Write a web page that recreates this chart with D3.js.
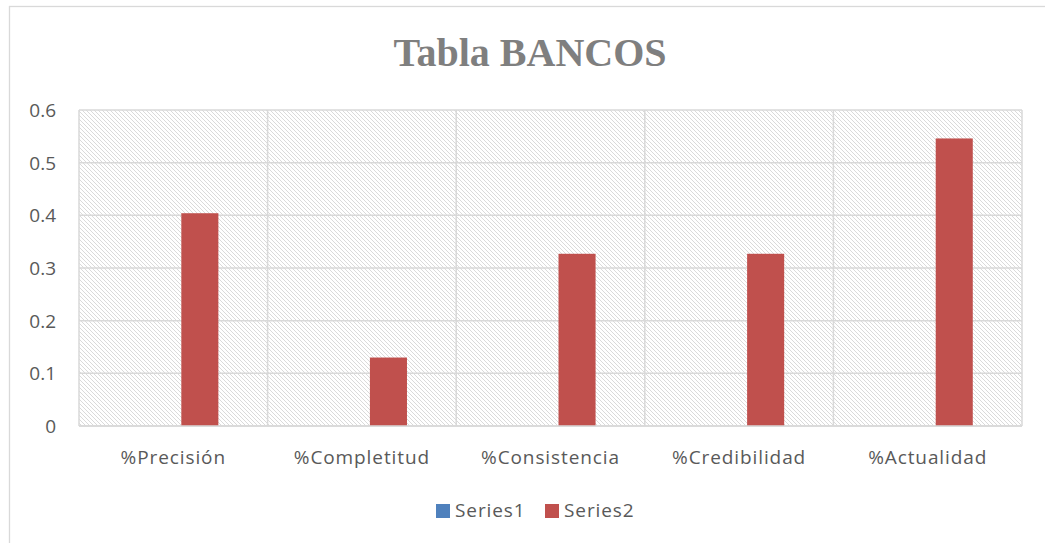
<!DOCTYPE html>
<html>
<head>
<meta charset="utf-8">
<script src="https://cdn.jsdelivr.net/npm/d3@7"></script>
<style>
  html, body { margin: 0; padding: 0; background: #fff; }
  svg { display: block; }
</style>
</head>
<body>
<svg id="chart" width="1045" height="543"></svg>
<script>
// ---- data ----
const categories = ["%Precisión", "%Completitud", "%Consistencia", "%Credibilidad", "%Actualidad"];
const seriesNames = ["Series1", "Series2"];
const series1 = [0, 0, 0, 0, 0];
const series2 = [0.404, 0.13, 0.327, 0.327, 0.546];
const yTicks = [0, 0.1, 0.2, 0.3, 0.4, 0.5, 0.6];
const titleText = "Tabla BANCOS";

// ---- layout ----
const W = 1045, H = 543;
const plot = { left: 79, right: 1022, top: 110, bottom: 426 };
const colors = { Series1: "#4f81bd", Series2: "#c0504d" };
const gridColor = "#d9d9d9";
const textColor = "#595959";
const font = "'Open Sans', sans-serif";

const svg = d3.select("#chart");

// hatch pattern
const defs = svg.append("defs");
const pat = defs.append("pattern")
  .attr("id", "hatch")
  .attr("patternUnits", "userSpaceOnUse")
  .attr("width", 4).attr("height", 4);
pat.append("rect").attr("width", 4).attr("height", 4).attr("fill", "#fff");
pat.append("path")
  .attr("d", "M-1,-1 L5,5 M-1,3 L1,5 M3,-1 L5,1")
  .attr("stroke", "#dadada")
  .attr("stroke-width", 1);

// outer chart border
svg.append("rect")
  .attr("x", 9.5).attr("y", 6.5)
  .attr("width", 1060).attr("height", 560)
  .attr("fill", "#fff")
  .attr("stroke", gridColor).attr("stroke-width", 1.3);

// title
svg.append("text")
  .attr("x", 530).attr("y", 66)
  .attr("text-anchor", "middle")
  .attr("font-family", "'Liberation Serif', 'DejaVu Serif', serif")
  .attr("font-weight", "bold")
  .attr("font-size", 40)
  .attr("fill", "#7f7f7f")
  .text(titleText);

// scales
const x0 = d3.scaleBand().domain(categories).range([plot.left, plot.right]).padding(0);
const bw = x0.bandwidth();
const clusterHalf = bw * 0.239;
const x1 = d3.scaleBand().domain(seriesNames)
  .range([bw / 2 - clusterHalf, bw / 2 + clusterHalf])
  .paddingInner(0.302).paddingOuter(0);
const y = d3.scaleLinear().domain([0, 0.6]).range([plot.bottom, plot.top]);

// plot background hatch
svg.append("rect")
  .attr("x", plot.left).attr("y", plot.top)
  .attr("width", plot.right - plot.left).attr("height", plot.bottom - plot.top)
  .attr("fill", "url(#hatch)");

// horizontal gridlines
svg.append("g")
  .selectAll("line").data(yTicks).join("line")
  .attr("x1", plot.left).attr("x2", plot.right)
  .attr("y1", d => y(d)).attr("y2", d => y(d))
  .attr("stroke", gridColor).attr("stroke-width", 1.5);

// vertical gridlines at category boundaries
const bounds = categories.map(c => x0(c)).concat([plot.right]);
svg.append("g")
  .selectAll("line").data(bounds).join("line")
  .attr("x1", d => d).attr("x2", d => d)
  .attr("y1", plot.top).attr("y2", plot.bottom)
  .attr("stroke", gridColor).attr("stroke-width", 1.5);

// bars
const rows = categories.map((c, i) => ({ cat: c, vals: [
  { s: "Series1", v: series1[i] },
  { s: "Series2", v: series2[i] }
]}));
const g = svg.append("g");
g.selectAll("g").data(rows).join("g")
  .attr("transform", d => `translate(${x0(d.cat)},0)`)
  .selectAll("rect").data(d => d.vals).join("rect")
  .attr("x", d => x1(d.s))
  .attr("width", x1.bandwidth())
  .attr("y", d => y(d.v))
  .attr("height", d => y(0) - y(d.v))
  .attr("fill", d => colors[d.s]);

// x axis line
svg.append("line")
  .attr("x1", plot.left).attr("x2", plot.right)
  .attr("y1", y(0)).attr("y2", y(0))
  .attr("stroke", gridColor).attr("stroke-width", 1.5);

// y axis labels
const yAxis = d3.axisLeft(y).tickValues(yTicks).tickSize(0).tickPadding(0)
  .tickFormat(d => d === 0 ? "0" : d3.format(".1f")(d));
const ya = svg.append("g").attr("transform", `translate(${plot.left - 23},0)`).call(yAxis);
ya.select(".domain").remove();
ya.selectAll("text")
  .attr("font-family", font).attr("font-size", 19).attr("fill", textColor)
  .attr("dy", "0.35em");

// x axis labels
const xAxis = d3.axisBottom(x0).tickSize(0).tickPadding(0);
const xa = svg.append("g").attr("transform", `translate(0,${plot.bottom})`).call(xAxis);
xa.select(".domain").remove();
xa.selectAll("text")
  .attr("font-family", font).attr("font-size", 19).attr("fill", textColor)
  .attr("letter-spacing", "0.9px")
  .attr("y", 38).attr("dy", 0);

// legend
const legendItems = [
  { name: "Series1", x: 436 },
  { name: "Series2", x: 545 }
];
const lg = svg.append("g");
const li = lg.selectAll("g").data(legendItems).join("g")
  .attr("transform", d => `translate(${d.x},504)`);
li.append("rect").attr("width", 14).attr("height", 14).attr("fill", d => colors[d.name]);
li.append("text")
  .attr("x", 19).attr("y", 13)
  .attr("font-family", font).attr("font-size", 19).attr("fill", textColor)
  .attr("letter-spacing", "0.9px")
  .text(d => d.name);
</script>
</body>
</html>
